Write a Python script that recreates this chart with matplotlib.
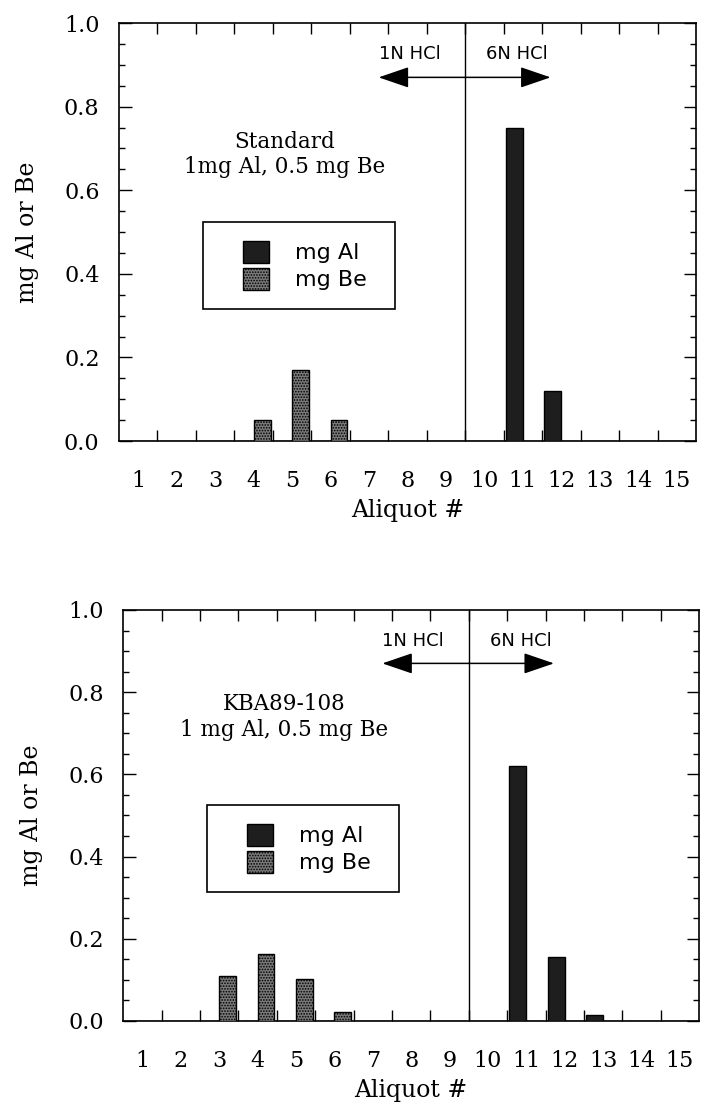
import matplotlib
matplotlib.use("Agg")
import matplotlib.pyplot as plt
from matplotlib.patches import Rectangle
from matplotlib.ticker import MultipleLocator, FixedLocator, FormatStrFormatter
import numpy as np

plt.rcParams['font.family'] = 'DejaVu Serif'
plt.rcParams['hatch.linewidth'] = 0.8

# Aliquot numbers and amounts (mg) recovered in each one
aliquots = np.arange(1, 16)

al_standard = [0, 0, 0, 0, 0, 0, 0, 0, 0, 0, 0.75, 0.12, 0, 0, 0]
be_standard = [0, 0, 0, 0.05, 0.17, 0.05, 0, 0, 0, 0, 0, 0, 0, 0, 0]

al_kba = [0, 0, 0, 0, 0, 0, 0, 0, 0, 0, 0.62, 0.155, 0.014, 0, 0]
be_kba = [0, 0, 0.11, 0.162, 0.102, 0.023, 0, 0, 0, 0, 0, 0, 0, 0, 0]

titles = ["Standard\n1mg Al, 0.5 mg Be", "KBA89-108\n1 mg Al, 0.5 mg Be"]
title_pos = [(4.8, 0.685), (4.7, 0.74)]
acid_labels = ["1N HCl", "6N HCl"]
switch_at = 9.5

fig = plt.figure(figsize=(7.04, 11.07), dpi=100)
ax_top = fig.add_axes([0.169, 0.6016, 0.8196, 0.3776])
ax_bot = fig.add_axes([0.175, 0.0777, 0.818, 0.3713])

bar_w = 0.44
sans = 'DejaVu Sans'

for ax, al, be, title, tpos in [(ax_top, al_standard, be_standard, titles[0], title_pos[0]),
                                (ax_bot, al_kba, be_kba, titles[1], title_pos[1])]:
    ax.bar(aliquots - bar_w, al, bar_w, align='edge', color='#1e1e1e',
           edgecolor='black', linewidth=1, label='mg Al', zorder=3)
    ax.bar(aliquots, be, bar_w, align='edge', color='#7a7a7a',
           edgecolor='black', linewidth=1, hatch='......', label='mg Be', zorder=3)

    ax.set_xlim(0.5, 15.5)
    ax.set_ylim(0, 1.0)

    # tick marks sit between aliquots, labels under each aliquot
    ax.xaxis.set_major_locator(FixedLocator(aliquots))
    ax.xaxis.set_minor_locator(FixedLocator(np.arange(1.5, 15, 1)))
    ax.tick_params(axis='x', which='major', length=0, pad=21, labelsize=16)
    ax.tick_params(axis='x', which='minor', direction='in', length=8, width=1,
                   top=True, bottom=True)
    ax.yaxis.set_major_locator(MultipleLocator(0.2))
    ax.yaxis.set_minor_locator(MultipleLocator(0.05))
    ax.tick_params(axis='y', which='major', direction='in', length=9, width=1,
                   left=True, right=True, pad=14, labelsize=16)
    ax.tick_params(axis='y', which='minor', direction='in', length=4.5, width=1,
                   left=True, right=True)
    ax.yaxis.set_major_formatter(FormatStrFormatter('%.1f'))
    for s in ax.spines.values():
        s.set_linewidth(1.2)

    ax.set_xlabel('Aliquot #', fontsize=17, labelpad=5)
    ax.set_ylabel('mg Al or Be', fontsize=17, labelpad=18)

    ax.axvline(switch_at, color='black', lw=1, zorder=2)

    # acid switch arrows
    ax.annotate('', xy=(7.25, 0.87), xytext=(switch_at, 0.87),
                arrowprops=dict(arrowstyle='-|>,head_length=1.9,head_width=0.65',
                                mutation_scale=10, lw=1.1, color='black',
                                shrinkA=0, shrinkB=0))
    ax.annotate('', xy=(11.72, 0.87), xytext=(switch_at, 0.87),
                arrowprops=dict(arrowstyle='-|>,head_length=1.9,head_width=0.65',
                                mutation_scale=10, lw=1.1, color='black',
                                shrinkA=0, shrinkB=0))
    ax.text(8.05, 0.925, acid_labels[0], ha='center', va='center',
            fontsize=13, family=sans)
    ax.text(10.85, 0.925, acid_labels[1], ha='center', va='center',
            fontsize=13, family=sans)

    ax.text(tpos[0], tpos[1], title, ha='center', va='center',
            fontsize=15.5, linespacing=1.2)

    # legend with a hand-drawn square frame
    ax.add_patch(Rectangle((0.146, 0.315), 0.333, 0.21, transform=ax.transAxes,
                           fill=False, edgecolor='black', lw=1.2, zorder=4))
    ax.legend(frameon=False, loc='center left', bbox_to_anchor=(0.215, 0.42),
              handlelength=1.15, handleheight=1.15, labelspacing=0.2,
              handletextpad=1.2, borderpad=0, borderaxespad=0,
              prop={'family': sans, 'size': 16})

fig.savefig('out.png', dpi=100, facecolor='white')
